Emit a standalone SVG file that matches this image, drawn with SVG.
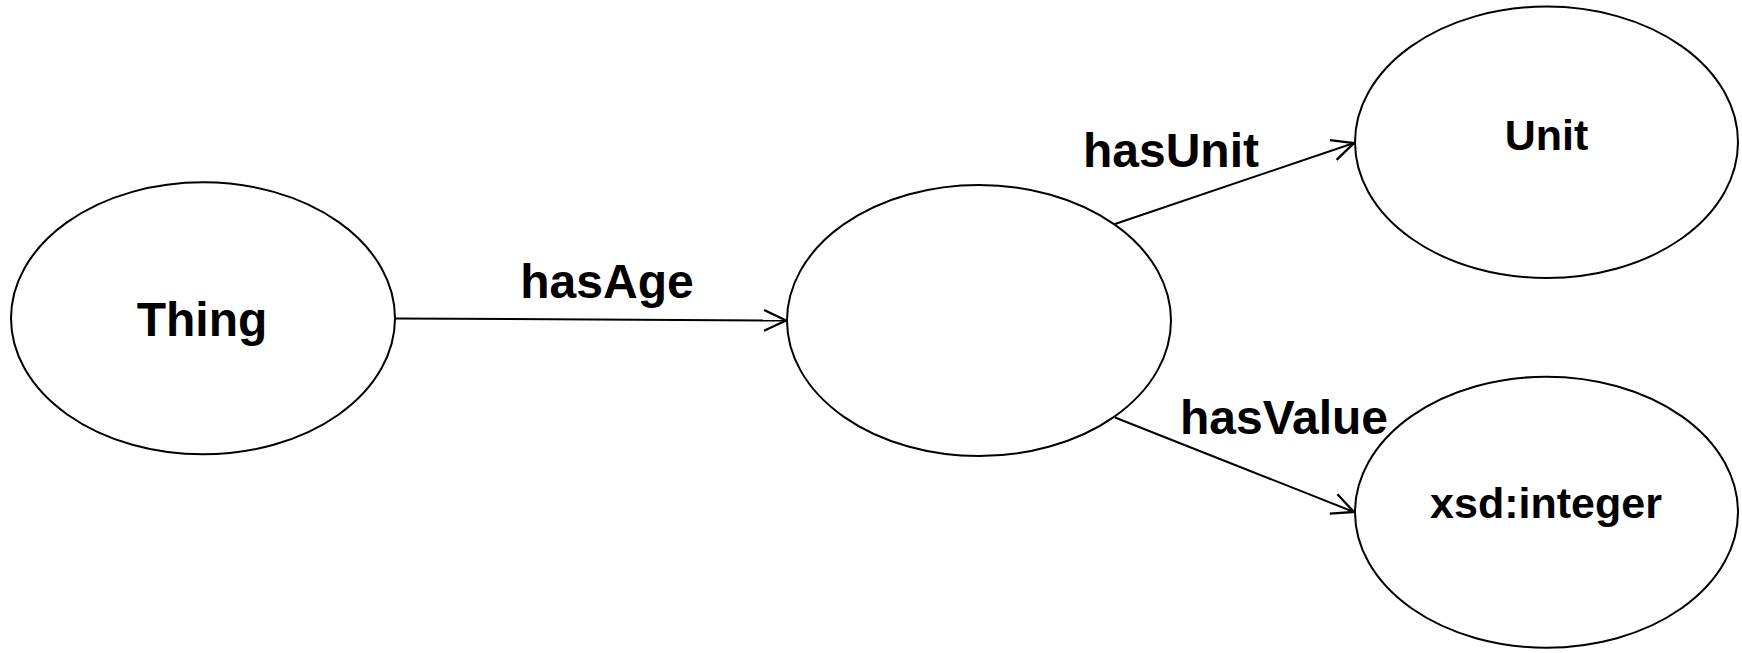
<svg xmlns="http://www.w3.org/2000/svg" width="1742" height="653" viewBox="0 0 1742 653">
<style>
.node ellipse{fill:#fff;stroke:#000;stroke-width:2}
.lbl{font-family:"Liberation Sans",Arial,sans-serif;font-weight:bold;fill:#000;text-anchor:middle}
.edge{stroke:#000;stroke-width:2;fill:none}
</style>
<defs>
<marker id="arr" markerUnits="userSpaceOnUse" markerWidth="30" markerHeight="30" viewBox="-22 -12 26 24" refX="0" refY="0" orient="auto" overflow="visible">
<path d="M-19,-9 L0,0 L-19,9" fill="none" stroke="#000" stroke-width="2"/>
</marker>
</defs>
<rect width="1742" height="653" fill="#fff"/>
<g id="connectors">
<line class="edge" x1="395" y1="318.5" x2="786" y2="320.5" marker-end="url(#arr)"/>
<line class="edge" x1="1115" y1="224" x2="1354" y2="143" marker-end="url(#arr)"/>
<line class="edge" x1="1115" y1="417.5" x2="1354" y2="512" marker-end="url(#arr)"/>
<text class="lbl" x="607" y="298" font-size="48">hasAge</text>
<text class="lbl" x="1171" y="166.5" font-size="48">hasUnit</text>
<text class="lbl" x="1284" y="433.5" font-size="48">hasValue</text>
</g>
<g id="thing" class="node">
<ellipse cx="203" cy="318.3" rx="192" ry="136"/>
<text class="lbl" x="202" y="335.7" font-size="48">Thing</text>
</g>
<g id="age" class="node">
<ellipse cx="979" cy="320.5" rx="192" ry="135.5"/>
</g>
<g id="unit" class="node">
<ellipse cx="1546.5" cy="142.3" rx="191.5" ry="135.7"/>
<text class="lbl" x="1546.5" y="150" font-size="43">Unit</text>
</g>
<g id="integer" class="node">
<ellipse cx="1546.5" cy="512.2" rx="191.5" ry="135.5"/>
<text class="lbl" x="1546" y="518" font-size="43">xsd:integer</text>
</g>
</svg>
